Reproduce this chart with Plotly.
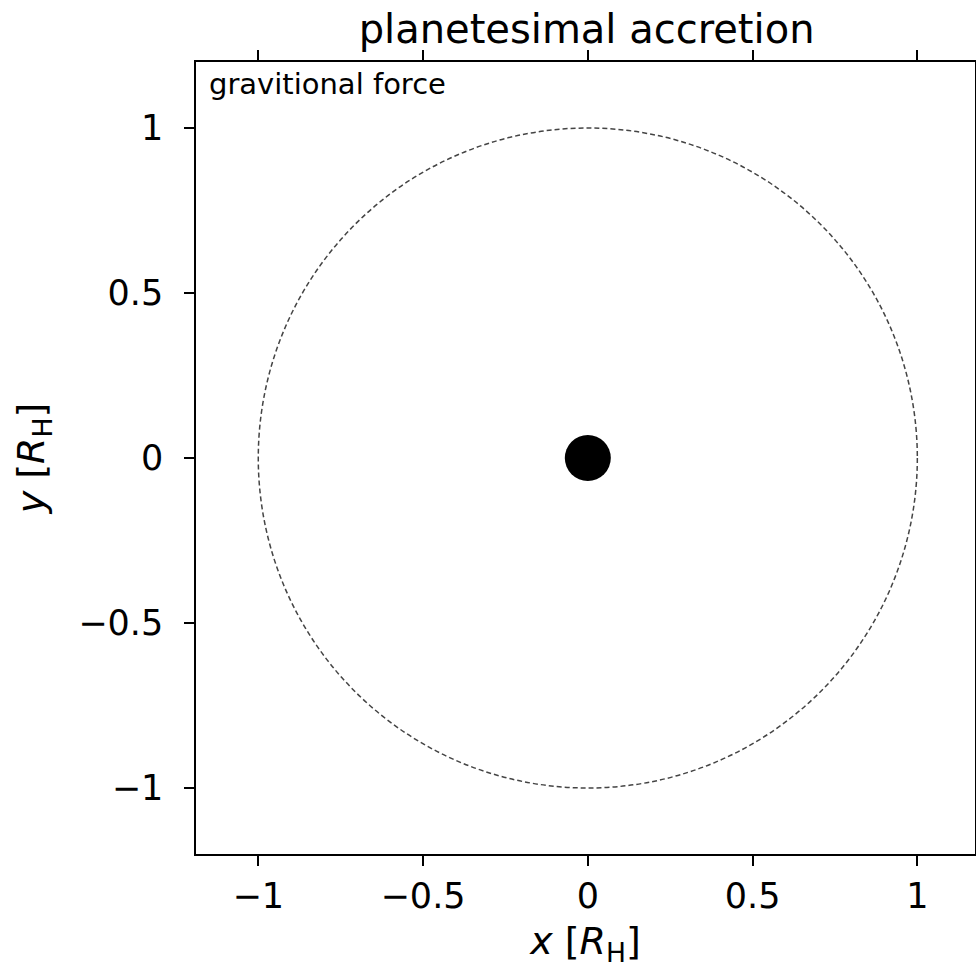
import plotly.graph_objects as go

# Hill-sphere geometry (units of R_H)
hill_radius = [1.0]
body_x = [0.0]
body_y = [0.0]

tick_vals = [-1, -0.5, 0, 0.5, 1]
tick_text = ["\u22121", "\u22120.5", "0", "0.5", "1"]

FONT = "DejaVu Sans"

fig = go.Figure()

# central body
fig.add_trace(go.Scatter(
    x=body_x, y=body_y, mode="markers",
    marker=dict(size=46, color="black", line=dict(width=0)),
    showlegend=False, hoverinfo="skip",
))

# Hill sphere boundary
r = hill_radius[0]
fig.add_shape(type="circle", xref="x", yref="y",
              x0=-r, y0=-r, x1=r, y1=r,
              line=dict(color="#444444", width=1.5, dash="5px,3px"),
              layer="below")

axis_common = dict(
    tickvals=tick_vals, ticktext=tick_text,
    ticks="outside", ticklen=10, tickwidth=1.5, tickcolor="black",
    showline=True, linecolor="black", linewidth=1.5, mirror="ticks",
    showgrid=False, zeroline=False, automargin=False,
    tickfont=dict(family=FONT, size=35, color="black"),
)

fig.update_layout(
    width=976, height=970,
    margin=dict(l=196, r=1, t=62, b=116),
    paper_bgcolor="white", plot_bgcolor="white",
    title=dict(text="planetesimal accretion", x=0.601, xanchor="center",
               y=0.985, yanchor="top",
               font=dict(family=FONT, size=40, color="black")),
    xaxis=dict(range=[-1.189, 1.175],
               title=dict(text="<i>x</i> [<i>R</i><sub>H</sub>]", standoff=13,
                          font=dict(family=FONT, size=38, color="black")),
               **axis_common),
    yaxis=dict(range=[-1.2, 1.2], ticklabelstandoff=14,
               title=dict(text="<i>y</i> [<i>R</i><sub>H</sub>]", standoff=22,
                          font=dict(family=FONT, size=38, color="black")),
               **axis_common),
    annotations=[dict(text="gravitional force", xref="paper", yref="paper",
                      x=0.014, y=0.996, xanchor="left", yanchor="top",
                      showarrow=False,
                      font=dict(family=FONT, size=29, color="black"))],
)

fig.write_html("out.html")
